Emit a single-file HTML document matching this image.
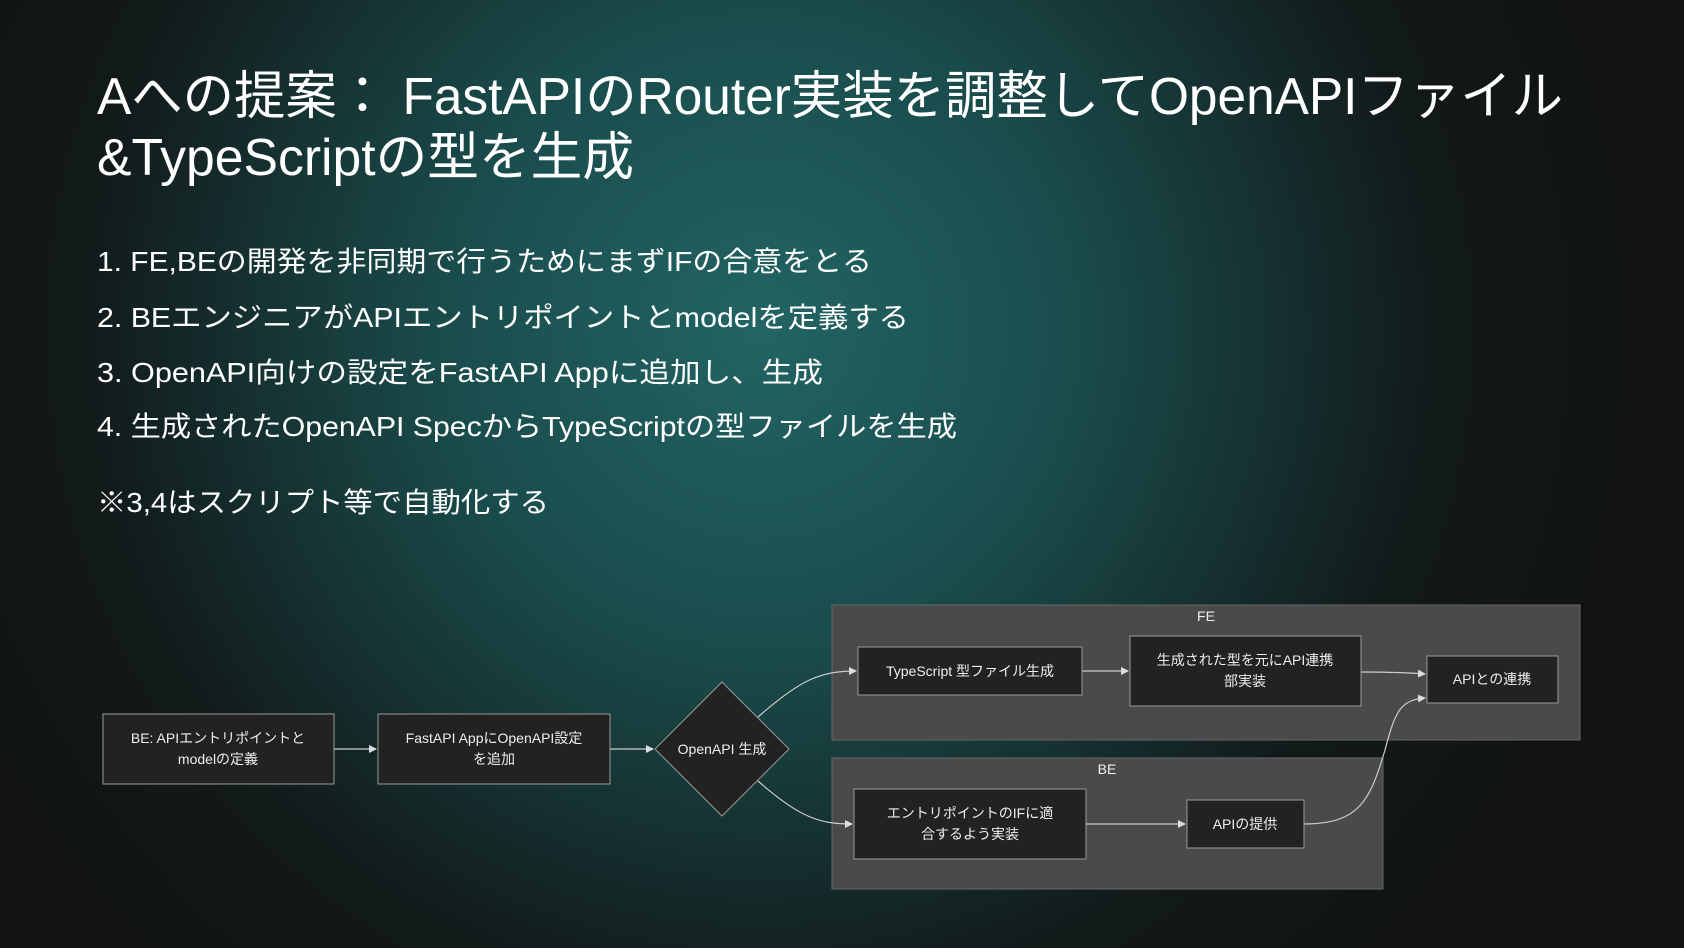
<!DOCTYPE html>
<html><head><meta charset="utf-8"><style>
html,body{margin:0;padding:0;width:1684px;height:948px;overflow:hidden;background:#111}
svg{display:block}
text{font-family:"Liberation Sans","Noto Sans CJK JP",sans-serif;fill:#fff}
.n{font-size:14px;fill:#eee;text-anchor:middle}
</style></head><body>
<svg width="1684" height="948" viewBox="0 0 1684 948">
<defs>
<radialGradient id="bg" cx="760" cy="330" r="900" gradientUnits="userSpaceOnUse">
<stop offset="0" stop-color="#226464"/>
<stop offset="0.35" stop-color="#1a4c4c"/>
<stop offset="0.75" stop-color="#121a1a"/>
<stop offset="1" stop-color="#111212"/>
</radialGradient>
<marker id="a" markerWidth="8" markerHeight="8" refX="7" refY="4" orient="auto" markerUnits="userSpaceOnUse"><path d="M0,0 L8,4 L0,8 z" fill="#ddd"/></marker>
</defs>
<rect width="1684" height="948" fill="url(#bg)"/>
<text x="97" y="114" font-size="52" textLength="1466" lengthAdjust="spacingAndGlyphs">Aへの提案： FastAPIのRouter実装を調整してOpenAPIファイル</text>
<text x="97" y="175" font-size="52" textLength="537" lengthAdjust="spacingAndGlyphs">&amp;TypeScriptの型を生成</text>
<g font-size="28">
<text x="97" y="271" textLength="775" lengthAdjust="spacingAndGlyphs">1.  FE,BEの開発を非同期で行うためにまずIFの合意をとる</text>
<text x="97" y="327" textLength="812" lengthAdjust="spacingAndGlyphs">2.  BEエンジニアがAPIエントリポイントとmodelを定義する</text>
<text x="97" y="382" textLength="726" lengthAdjust="spacingAndGlyphs">3.  OpenAPI向けの設定をFastAPI Appに追加し、生成</text>
<text x="97" y="436" textLength="860" lengthAdjust="spacingAndGlyphs">4.  生成されたOpenAPI SpecからTypeScriptの型ファイルを生成</text>
<text x="97" y="512" textLength="452" lengthAdjust="spacingAndGlyphs">※3,4はスクリプト等で自動化する</text>
</g>
<!-- groups -->
<rect x="832" y="605" width="748" height="135" fill="#4a4a4a" stroke="#666" stroke-width="1"/>
<text x="1206" y="621" class="n" font-size="13">FE</text>
<rect x="832" y="758" width="551" height="131" fill="#4a4a4a" stroke="#666" stroke-width="1"/>
<text x="1107" y="774" class="n" font-size="13">BE</text>
<!-- edges -->
<g stroke="#ccc" stroke-width="1.2" fill="none">
<path d="M334,749 L376,749" marker-end="url(#a)"/>
<path d="M610,749 L653,749" marker-end="url(#a)"/>
<path d="M758,717 C800,680 820,671 856,671" marker-end="url(#a)"/>
<path d="M758,781 C800,818 820,824 852,824" marker-end="url(#a)"/>
<path d="M1082,671 L1128,671" marker-end="url(#a)"/>
<path d="M1086,824 L1185,824" marker-end="url(#a)"/>
<path d="M1361,672 C1400,672 1410,673 1425,674" marker-end="url(#a)"/>
<path d="M1304,824 C1360,824 1370,800 1385,750 C1395,712 1400,700 1425,698" marker-end="url(#a)"/>
</g>
<!-- nodes -->
<g fill="#222" stroke="#999" stroke-width="1">
<rect x="103" y="714" width="231" height="70"/>
<rect x="378" y="714" width="232" height="70"/>
<path d="M722,682 L789,749 L722,816 L655,749 z"/>
<rect x="858" y="647" width="224" height="48"/>
<rect x="1130" y="636" width="231" height="70"/>
<rect x="1427" y="656" width="131" height="47"/>
<rect x="854" y="789" width="232" height="70"/>
<rect x="1187" y="800" width="117" height="48"/>
</g>
<text x="218" y="743" class="n">BE: APIエントリポイントと</text>
<text x="218" y="764" class="n">modelの定義</text>
<text x="494" y="743" class="n">FastAPI AppにOpenAPI設定</text>
<text x="494" y="764" class="n">を追加</text>
<text x="722" y="754" class="n">OpenAPI 生成</text>
<text x="970" y="676" class="n">TypeScript 型ファイル生成</text>
<text x="1245" y="665" class="n">生成された型を元にAPI連携</text>
<text x="1245" y="686" class="n">部実装</text>
<text x="1492" y="684" class="n">APIとの連携</text>
<text x="970" y="818" class="n">エントリポイントのIFに適</text>
<text x="970" y="839" class="n">合するよう実装</text>
<text x="1245" y="829" class="n">APIの提供</text>
</svg>
</body></html>
